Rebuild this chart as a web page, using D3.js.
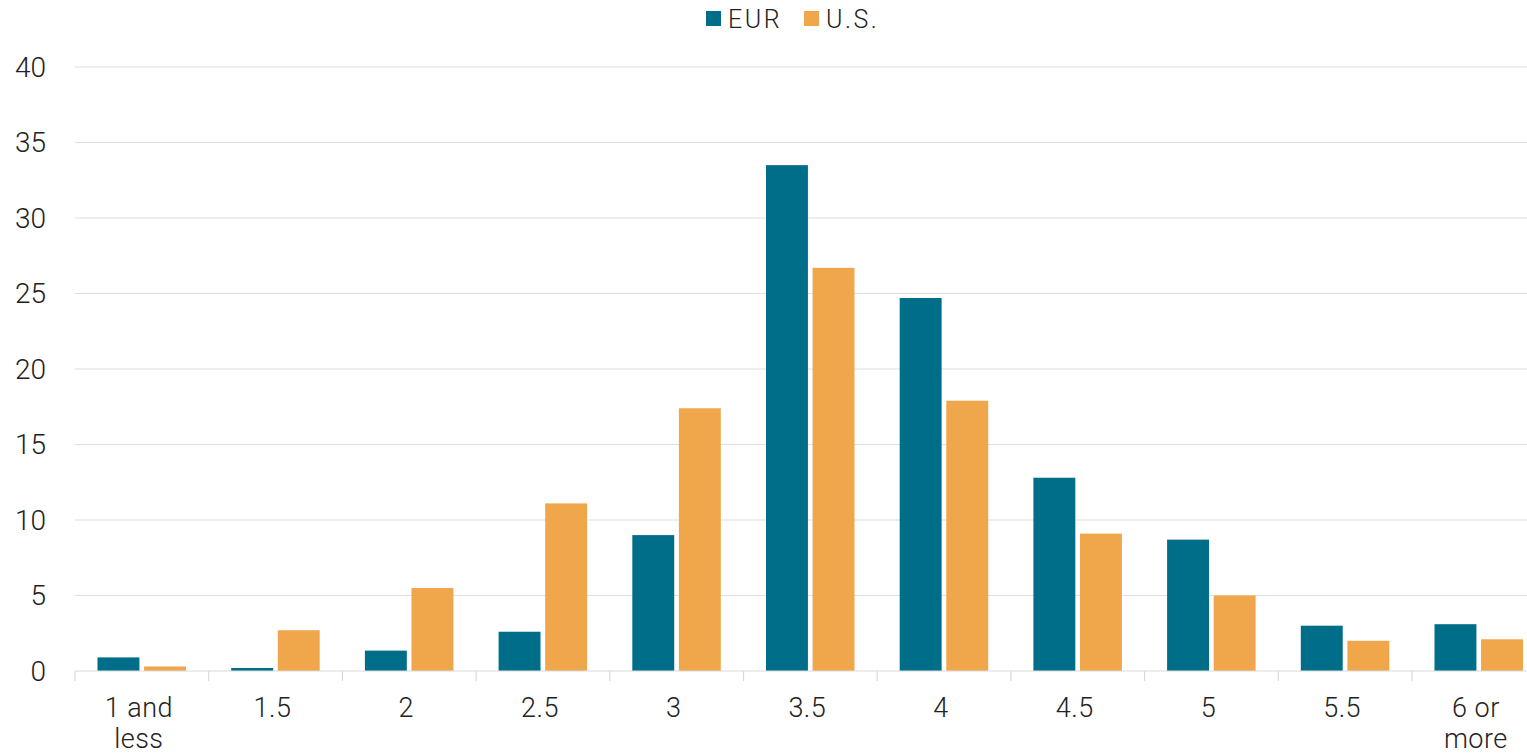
<!DOCTYPE html>
<html>
<head>
<meta charset="utf-8">
<script src="https://cdn.jsdelivr.net/npm/d3@7"></script>
<style>
  body { margin: 0; background: #fff; overflow: hidden; }
  text { font-family: Roboto, "Open Sans", sans-serif; font-weight: 300; fill: #222; }
</style>
</head>
<body>
<div class="chart"></div>
<script>
// data
var categories = ["1 and less", "1.5", "2", "2.5", "3", "3.5", "4", "4.5", "5", "5.5", "6 or more"];
var seriesNames = ["EUR", "U.S."];
var eurValues = [0.9, 0.2, 1.35, 2.6, 9.0, 33.5, 24.7, 12.8, 8.7, 3.0, 3.1];
var usValues = [0.3, 2.7, 5.5, 11.1, 17.4, 26.7, 17.9, 9.1, 5.0, 2.0, 2.1];
var yTicks = [0, 5, 10, 15, 20, 25, 30, 35, 40];
var colors = ["#006e89", "#f0a64b"];

var svgWidth = 1527;
var svgHeight = 755;

var svg = d3.select(".chart")
  .append("svg")
  .attr("width", svgWidth)
  .attr("height", svgHeight);

// band scale runs past the right edge, as in the picture
var x0 = d3.scaleBand()
  .domain(categories)
  .range([75, 75 + 11 * 133.7])
  .padding(0);

var x1 = d3.scaleBand()
  .domain(seriesNames)
  .range([22.5, 111])
  .paddingInner(0.1);

var y = d3.scaleLinear()
  .domain([0, 40])
  .range([671, 67]);

// gridlines
svg.append("g")
  .selectAll("line")
  .data(yTicks.filter(d => d > 0))
  .enter()
  .append("line")
  .attr("x1", 75)
  .attr("x2", svgWidth)
  .attr("y1", d => y(d))
  .attr("y2", d => y(d))
  .attr("stroke", "#dedede")
  .attr("stroke-width", 1.2);

// y labels
svg.append("g")
  .selectAll("text")
  .data(yTicks)
  .enter()
  .append("text")
  .attr("x", 46)
  .attr("y", d => y(d))
  .attr("dy", "0.35em")
  .attr("text-anchor", "end")
  .style("font-size", "28px")
  .text(d => d);

// bars
var table = categories.map((c, i) => ({ cat: c, vals: [eurValues[i], usValues[i]] }));

var groups = svg.append("g")
  .selectAll("g")
  .data(table)
  .enter()
  .append("g")
  .attr("transform", d => `translate(${x0(d.cat)},0)`);

groups.selectAll("rect")
  .data(d => d.vals.map((v, j) => ({ name: seriesNames[j], value: v, idx: j })))
  .enter()
  .append("rect")
  .attr("x", d => x1(d.name))
  .attr("width", x1.bandwidth())
  .attr("y", d => y(d.value))
  .attr("height", d => y(0) - y(d.value))
  .attr("fill", d => colors[d.idx]);

// x axis
var xAxis = svg.append("g");
xAxis.append("line")
  .attr("x1", 75)
  .attr("x2", svgWidth)
  .attr("y1", y(0))
  .attr("y2", y(0))
  .attr("stroke", "#d9d9d9")
  .attr("stroke-width", 1.2);

xAxis.selectAll(".tick")
  .data(categories)
  .enter()
  .append("line")
  .attr("x1", d => x0(d))
  .attr("x2", d => x0(d))
  .attr("y1", y(0))
  .attr("y2", y(0) + 10)
  .attr("stroke", "#d9d9d9")
  .attr("stroke-width", 1.2);

// x labels, wrapped in two lines like the original
var wrapped = {
  "1 and less": ["1 and", "less"],
  "6 or more": ["6 or", "more"]
};

var xLabels = xAxis.selectAll(".xlabel")
  .data(categories)
  .enter()
  .append("text")
  .attr("class", "xlabel")
  .attr("text-anchor", "middle")
  .style("font-size", "27px")
  .style("letter-spacing", "0.5px")
  .attr("y", 717);

xLabels.each(function(d) {
  var lines = wrapped[d] || [d];
  var t = d3.select(this);
  lines.forEach((l, k) => {
    t.append("tspan")
      .attr("x", x0(d) + x0.bandwidth() / 2 - 3)
      .attr("dy", k === 0 ? 0 : 31)
      .text(l);
  });
});

// legend
var legend = svg.append("g").attr("transform", "translate(706,11)");
var legendX = [0, 98];
seriesNames.forEach((s, i) => {
  legend.append("rect")
    .attr("x", legendX[i])
    .attr("y", 0)
    .attr("width", 15)
    .attr("height", 15)
    .attr("fill", colors[i]);
  legend.append("text")
    .attr("x", legendX[i] + 22)
    .attr("y", 8)
    .attr("dy", "0.36em")
    .style("font-size", "25px")
    .style("letter-spacing", "2.5px")
    .text(s);
});
</script>
</body>
</html>
